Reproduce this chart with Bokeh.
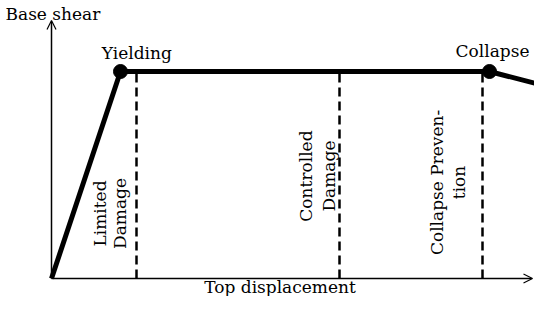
from bokeh.plotting import figure
from bokeh.models import Range1d, Arrow, OpenHead
from bokeh.core.properties import value
from bokeh.embed import file_html
from bokeh.resources import INLINE
import math

# Idealised pushover curve (displacement, base shear; yield shear = 1)
curve_disp = [0.0, 0.69, 4.38, 4.86]
curve_shear = [0.0, 1.0, 1.0, 0.94]

# Characteristic points
point_disp = [0.69, 4.38]
point_shear = [1.0, 1.0]
point_labels = ["Yielding", "Collapse"]

# Performance-level limits
limit_disp = [0.85, 2.88, 4.31]
limit_top = [1.0, 1.0, 1.0]
limit_labels = [["Limited", "Damage"], ["Controlled", "Damage"], ["Collapse Preven-", "tion"]]

x_axis_label = "Top displacement"
y_axis_label = "Base shear"

FONT = value("DejaVu Serif")
FS = "17px"

p = figure(width=534, height=296, x_range=Range1d(-0.51, 4.83), y_range=Range1d(-0.08696, 1.343),
           output_backend="svg", toolbar_location=None, min_border=0,
           x_axis_location=None, y_axis_location=None)
p.grid.visible = False
p.outline_line_color = None
p.background_fill_color = "white"
p.border_fill_color = "white"

# axes with arrows
p.add_layout(Arrow(end=OpenHead(size=9, line_width=1.2), x_start=0, y_start=0, x_end=4.81, y_end=0,
                   line_width=1.5, line_color="black"))
p.add_layout(Arrow(end=OpenHead(size=9, line_width=1.2), x_start=0, y_start=0, x_end=0, y_end=1.246,
                   line_width=1.5, line_color="black"))

# dashed limit lines
for d, t in zip(limit_disp, limit_top):
    p.line([d, d], [0, t], line_width=2.5, line_dash="9 5", line_color="black")

# curve
p.line(curve_disp, curve_shear, line_width=5, line_color="black", line_join="round")
p.scatter(point_disp, point_shear, size=14, color="black")

# point labels
lab_x = [0.853, 4.41]
lab_y = [1.088, 1.099]
p.text(lab_x, lab_y, text=point_labels, text_font=FONT, text_font_size=FS,
       text_align="center", text_baseline="alphabetic", text_color="black")

# axis labels
p.text([-0.46], [1.2754], text=[y_axis_label], text_font=FONT, text_font_size=FS,
       text_align="left", text_baseline="alphabetic", text_color="black")
p.text([2.285], [-0.041], text=[x_axis_label], text_font=FONT, text_font_size=FS,
       text_align="center", text_baseline="alphabetic", text_color="black")

# rotated performance labels
rot_x = [[0.48, 0.68], [2.54, 2.77], [3.85, 4.07]]
rot_y = [0.314, 0.495, 0.464]
xs, ys, ts = [], [], []
for lines, xx, yy in zip(limit_labels, rot_x, rot_y):
    for line, x in zip(lines, xx):
        xs.append(x)
        ys.append(yy)
        ts.append(line)
p.text(xs, ys, text=ts, angle=math.pi / 2, text_font=FONT, text_font_size=FS,
       text_align="center", text_baseline="middle", text_color="black")

open("out.html", "w").write(file_html(p, INLINE))
